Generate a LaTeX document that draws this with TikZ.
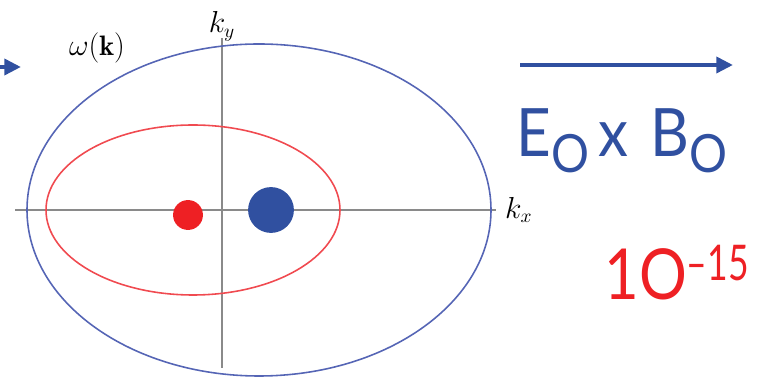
\documentclass[tikz,border=0pt]{standalone}
\usepackage{fontspec}
\usepackage{amsmath}
\usetikzlibrary{arrows.meta,positioning}
\newfontfamily\handfont{Lato}
\definecolor{axisgray}{HTML}{8A8A8A}
\definecolor{dotblue}{HTML}{3050A0}
\definecolor{ringblue}{HTML}{5565B5}
\definecolor{dotred}{HTML}{EE2024}
\definecolor{ringred}{HTML}{F04A50}
\tikzset{axis/.style={draw=axisgray,line width=0.8pt},
  ring/.style={line width=0.9pt},
  bigarr/.style={-{Triangle[length=9.5pt,width=9pt]},line width=2.8pt,draw=dotblue},
  dot/.style={circle,inner sep=0pt,fill=#1},
  lbl/.style={inner sep=0pt,font=\fontsize{16}{18}\selectfont},
  hand/.style={inner sep=0pt,anchor=base west,font=\handfont}}

\begin{document}
\begin{tikzpicture}[x=0.02cm,y=-0.02cm]
\useasboundingbox (0,0) rectangle (757,377);
% axes
\coordinate (xl) at (15,210);
\coordinate (xr) at (496,210);
\coordinate (yb) at (222,368);
\coordinate (yt) at (222,38);
\draw[axis] (xl) -- (xr);
\draw[axis] (yb) -- (yt);
\node[lbl,anchor=west] (kx) at ([xshift=5pt]xr) {$k_x$};
\node[lbl,anchor=south] (ky) at ([yshift=-2pt]yt) {$k_y$};
\node[lbl] (omega) at (97,48) {$\omega(\mathbf{k})$};
% the two rings
\draw[ring,draw=ringblue] (259,210) ellipse [x radius=232,y radius=166];
\draw[ring,draw=ringred] (193,210) ellipse [x radius=147,y radius=85];
% the two dots
\node[dot=dotred,minimum size=30*0.567pt] (reddot) at (188,215) {};
\node[dot=dotblue,minimum size=46*0.567pt] (bluedot) at (271,210) {};
% drift arrows
\coordinate (a1) at (0,67);
\coordinate (a2) at (21,67);
\draw[bigarr] (a1) -- (a2);
\coordinate (b1) at (520,65);
\coordinate (b2) at (733,65);
\draw[bigarr] (b1) -- (b2);
% labels on the right
\node[hand,text=dotblue,font=\handfont\fontsize{38}{40}\selectfont] (exb) at (516,157)
  {\scalebox{0.9}[1]{E\raisebox{-9pt}{\fontsize{30}{32}\selectfont O}\hspace{6pt}x\hspace{14pt}B\raisebox{-9pt}{\fontsize{30}{32}\selectfont O}}};
\node[hand,text=dotred,font=\handfont\fontsize{40}{42}\selectfont] (ten) at (604,300)
  {\scalebox{0.85}[1]{1O\raisebox{11pt}{\fontsize{28}{30}\selectfont \scalebox{0.85}[1]{–15}}}};
\end{tikzpicture}
\end{document}
